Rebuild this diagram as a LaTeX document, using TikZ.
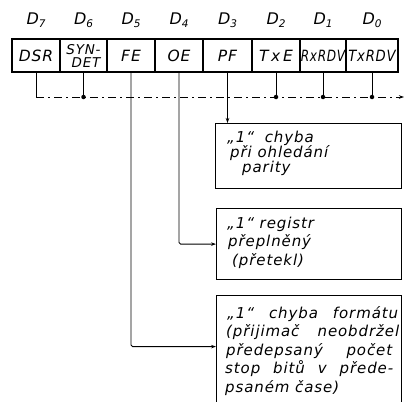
\documentclass[tikz,border=0pt]{standalone}
\usepackage{fontspec}
\usepackage{graphicx}
\newfontfamily\tf[LetterSpace=6]{DejaVu Sans}
\usetikzlibrary{arrows.meta}
\newcommand\dlab[1]{D\raisebox{-3.5pt}{\fontsize{10.5}{11}\selectfont #1}}
\begin{document}
\begin{tikzpicture}[x=1pt,y=-1pt,
  cell/.style={draw,line width=1.2pt,minimum height=33pt,inner sep=0pt,font=\tf\itshape\fontsize{15.5}{17}\selectfont},
  lbl/.style={inner sep=0pt,font=\tf\itshape\fontsize{16}{18}\selectfont},
  msgbox/.style={draw,line width=1.2pt,anchor=north west,inner sep=0pt},
  ln/.style={anchor=base west,inner sep=0pt,font=\tf\itshape\fontsize{15}{17}\selectfont},
  wire/.style={line width=0.9pt,rounded corners=1.5pt},
  tip/.style={-{Stealth[length=5pt,width=3.5pt]}},
  dot/.style={circle,fill,inner sep=0pt,minimum size=4.5pt}]
\useasboundingbox (0,0) rectangle (406,401);
\clip (0,0) rectangle (406,401);
% bit labels
\node[lbl] (d7) at (36,20) {\dlab{7}};
\node[lbl] (d6) at (83.5,20) {\dlab{6}};
\node[lbl] (d5) at (131,20) {\dlab{5}};
\node[lbl] (d4) at (179,20) {\dlab{4}};
\node[lbl] (d3) at (227.5,20) {\dlab{3}};
\node[lbl] (d2) at (276,20) {\dlab{2}};
\node[lbl] (d1) at (323,20) {\dlab{1}};
\node[lbl] (d0) at (372,20) {\dlab{0}};
% register cells
\node[cell,minimum width=48pt] (c7) at (36,55.5) {DSR};
\node[cell,minimum width=47pt,align=center,font=\tf\itshape\fontsize{13.5}{13}\selectfont] (c6) at (83.5,55.5) {SYN-\\\hspace*{5pt}DET};
\node[cell,minimum width=48pt] (c5) at (131,55.5) {FE};
\node[cell,minimum width=48pt] (c4) at (179,55.5) {OE};
\node[cell,minimum width=49pt] (c3) at (227.5,55.5) {PF};
\node[cell,minimum width=48pt] (c2) at (276,55.5) {T\,x\,E};
\node[cell,minimum width=46pt] (c1) at (323,55.5) {\scalebox{0.78}[1]{RxRDV}};
\node[cell,minimum width=52pt] (c0) at (372,55.5) {\scalebox{0.85}[1]{TxRDV}};
% message boxes
\node[msgbox,minimum width=186pt,minimum height=65pt] (b1) at (215,123) {};
\node[msgbox,minimum width=185pt,minimum height=71pt] (b2) at (216,208) {};
\node[msgbox,minimum width=185pt,minimum height=113pt] (b3) at (216,295) {};
% texts
\node[ln] (t1a) at (227,142) {„1“\hspace{5pt} chyba};
\node[ln] (t1b) at (230,157) {při ohledání};
\node[ln] (t1c) at (242,172) {parity};
\node[ln] (t2a) at (227,228) {„1“ registr};
\node[ln] (t2b) at (228,246.5) {přeplněný};
\node[ln] (t2c) at (232,265) {(přetekl)};
\node[ln] (t3a) at (227,318) {\makebox[171pt][s]{„1“ chyba formátu}};
\node[ln] (t3b) at (226,336.5) {\makebox[173pt][s]{(přijimač neobdržel}};
\node[ln] (t3c) at (226,355) {\makebox[166pt][s]{předepsaný počet}};
\node[ln] (t3d) at (225,373.5) {\makebox[168pt][s]{stop bitů v přede-}};
\node[ln] (t3e) at (225,392) {psaném čase)};
% bus
\coordinate (bus) at (404,97);
\draw[wire] (c7.south) -- (c7.south |- bus);
\draw[line width=0.9pt,dash pattern=on 8pt off 4pt on 2pt off 4pt,tip] (c7.south |- bus) -- (bus);
\draw[wire] (c6.south) -- (c6.south |- bus) node[dot] {};
\draw[wire] (c2.south) -- (c2.south |- bus) node[dot] {};
\draw[wire] (c1.south) -- (c1.south |- bus) node[dot] {};
\draw[wire] (c0.south) -- (c0.south |- bus) node[dot] {};
% flag lines
\draw[wire,tip] (c3.south) -- (c3.south |- b1.north);
\draw[wire,tip] (c4.south) |- (b2.west);
\draw[wire,tip] (c5.south) |- ([yshift=5.5pt]b3.west);
\end{tikzpicture}
\end{document}
